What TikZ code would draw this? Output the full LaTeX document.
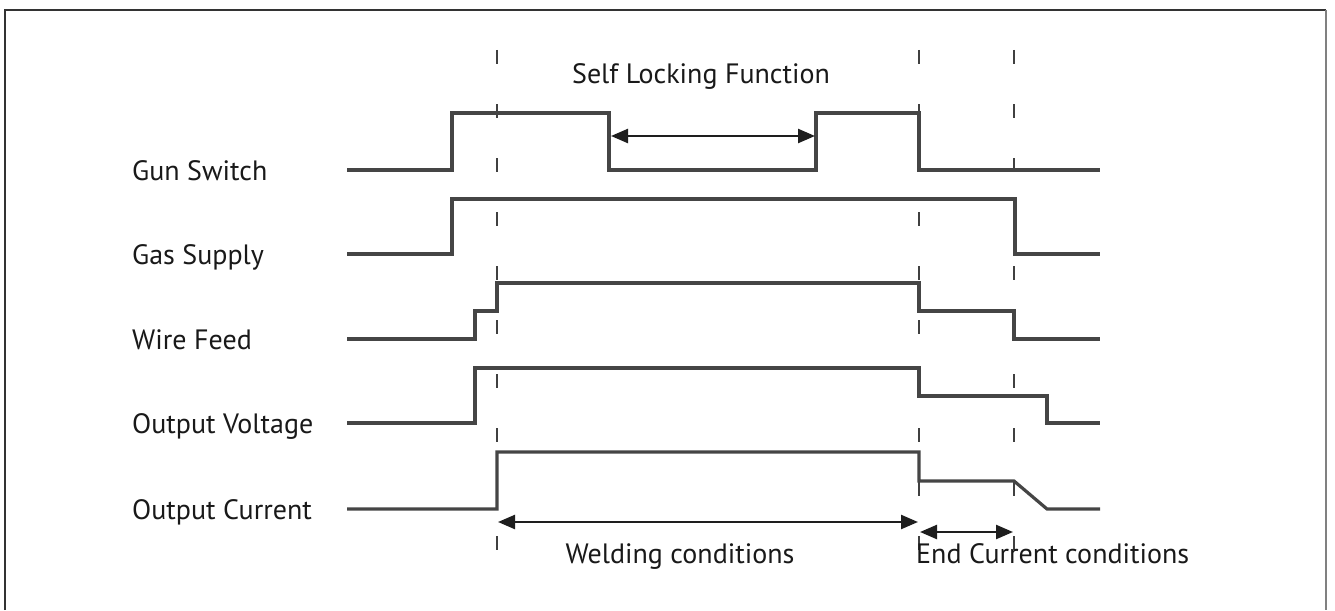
\documentclass[tikz,border=0pt]{standalone}
\usepackage{fontspec}
\setmainfont{PT Sans}
\usetikzlibrary{arrows.meta}
\definecolor{sig}{HTML}{454545}
\definecolor{dsh}{HTML}{404040}
\definecolor{arr}{HTML}{1E1E1E}
\tikzset{
  signal/.style={line width=3.2pt, color=sig, line join=miter},
  guide/.style={line width=1.9pt, color=dsh, dash pattern=on 14pt off 40pt},
  span/.style={line width=2.4pt, color=arr, {Triangle[length=17pt,width=14pt]}-{Triangle[length=17pt,width=14pt]}},
  lbl/.style={anchor=base west, inner sep=0pt, font=\fontsize{28}{34}\selectfont, text=black!90},
  captxt/.style={anchor=base, inner sep=0pt, font=\fontsize{28}{34}\selectfont, text=black!90}
}
\begin{document}
\begin{tikzpicture}[x=1pt,y=-1pt]
\useasboundingbox (0,0) rectangle (1335,610);
% frame
\draw[line width=1.6pt, color=black!80] (5,610) -- (5,10) -- (1326,10);
\draw[line width=1.6pt, color=black!50] (1326,10) -- (1326,610);
% guides
\foreach \gx in {497,919,1014} \draw[guide] (\gx,50) -- (\gx,552);
% labels
\node[lbl] (gs) at (132,180) {Gun Switch};
\node[lbl] (ga) at (132,264) {Gas Supply};
\node[lbl] (wf) at (132,349) {Wire Feed};
\node[lbl] (ov) at (132,433) {Output Voltage};
\node[lbl] (oc) at (132,519) {Output Current};
% signals
\draw[signal] (347,170) -- (452,170) -- (452,113) -- (609,113) -- (609,170) -- (816,170) -- (816,113) -- (919,113) -- (919,170) -- (1100,170);
\draw[signal] (347,254) -- (452,254) -- (452,199) -- (1015,199) -- (1015,254) -- (1100,254);
\draw[signal] (347,339) -- (475,339) -- (475,311) -- (497,311) -- (497,283) -- (919,283) -- (919,311) -- (1014,311) -- (1014,339) -- (1100,339);
\draw[signal] (347,423) -- (475,423) -- (475,368) -- (919,368) -- (919,396) -- (1047,396) -- (1047,423) -- (1100,423);
\draw[signal] (347,509) -- (497,509) -- (497,452) -- (919,452) -- (919,481) -- (1014,481) -- (1047,509) -- (1100,509);
% spans
\coordinate (sl1) at (611,136); \coordinate (sl2) at (815,136);
\draw[span] (sl1) -- (sl2);
\coordinate (w1) at (498,522); \coordinate (w2) at (918,522);
\draw[span] (w1) -- (w2);
\coordinate (e1) at (920,532); \coordinate (e2) at (1013,532);
\draw[span] (e1) -- (e2);
% captions
\node[captxt] (slf) at (701,83) {Self Locking Function};
\node[captxt] (wc) at (680,563) {Welding conditions};
\node[captxt, anchor=base west] (ec) at (916,563) {End Current conditions};
\end{tikzpicture}
\end{document}
